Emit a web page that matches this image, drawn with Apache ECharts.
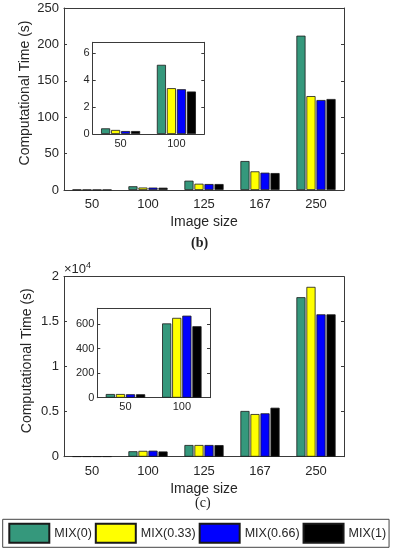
<!DOCTYPE html>
<html>
<head>
<meta charset="utf-8">
<script src="https://cdn.jsdelivr.net/npm/echarts@6/dist/echarts.min.js"></script>
<style>
html,body{margin:0;padding:0;background:#fff;}
#chart{width:395px;height:550px;}
</style>
</head>
<body>
<div id="chart"></div>
<script>
// ---- data ----
const categories = ['50', '100', '125', '167', '250'];
const insetCategories = ['50', '100'];
const seriesNames = ['MIX(0)', 'MIX(0.33)', 'MIX(0.66)', 'MIX(1)'];
const seriesColors = ['#35987c', '#ffff00', '#0000ff', '#000000'];

// (b) computational time in seconds
const mix0_b   = [0.42, 5.13, 12.8, 39.8, 212];
const mix033_b = [0.30, 3.40, 8.6, 25.6, 129];
const mix066_b = [0.22, 3.32, 8.2, 23.8, 123.6];
const mix1_b   = [0.22, 3.15, 8.2, 23.3, 125];

// (c) computational time in seconds
const mix0_c   = [30, 605, 1300, 5080, 17720];
const mix033_c = [30, 650, 1300, 4740, 18870];
const mix066_c = [28, 668, 1300, 4820, 15820];
const mix1_c   = [28, 582, 1290, 5440, 15820];

const yTicks_b = [0, 50, 100, 150, 200, 250];
const yTicksInset_b = [0, 2, 4, 6];
const yTicks_c = [0, 5000, 10000, 15000, 20000];
const yTicksInset_c = [0, 200, 400, 600];

// ---- chart ----
const FONT = 'Liberation Sans';
const AX = '#3a3a3a';
const TXT = '#262626';

const grids = [
  {left: 64, top: 8, width: 280, height: 182},
  {left: 92.7, top: 42.3, width: 111.6, height: 91.7, show: true, backgroundColor: '#fff', borderWidth: 0},
  {left: 64, top: 276.7, width: 280, height: 180},
  {left: 97.3, top: 308.3, width: 112.7, height: 89.4, show: true, backgroundColor: '#fff', borderWidth: 0}
];

const xAxes = [], yAxes = [];
function addAxes(gi, cats, yMin, yMax, yTicks, fontSize, fmt, withNames, yNameGap) {
  xAxes.push({
    type: 'category', gridIndex: gi, data: cats, position: 'bottom',
    axisLine: {onZero: false, lineStyle: {color: AX, width: 1}},
    axisTick: {inside: true, length: 3, alignWithLabel: true, lineStyle: {color: AX}},
    axisLabel: {color: TXT, fontFamily: FONT, fontSize: fontSize, margin: fontSize > 12 ? 8 : 4},
    splitLine: {show: false},
    name: withNames ? 'Image size' : '', nameLocation: 'middle', nameGap: 25,
    nameMoveOverlap: false,
    nameTextStyle: {color: TXT, fontFamily: FONT, fontSize: 14, verticalAlign: 'top'}
  });
  xAxes.push({
    type: 'category', gridIndex: gi, data: cats, position: 'top',
    axisLine: {onZero: false, lineStyle: {color: AX, width: 1}},
    axisTick: {inside: true, length: 3, alignWithLabel: true, lineStyle: {color: AX}},
    axisLabel: {show: false}, splitLine: {show: false}
  });
  yAxes.push({
    type: 'value', gridIndex: gi, min: yMin, max: yMax, position: 'left',
    axisLine: {show: true, onZero: false, lineStyle: {color: AX, width: 1}},
    axisTick: {show: true, inside: true, length: 3, lineStyle: {color: AX}, customValues: yTicks},
    axisLabel: {color: TXT, fontFamily: FONT, fontSize: fontSize, margin: fontSize > 12 ? 5 : 3,
                customValues: yTicks, formatter: fmt},
    splitLine: {show: false},
    name: withNames ? 'Computational Time (s)' : '', nameLocation: 'middle', nameGap: yNameGap, nameRotate: 90,
    nameMoveOverlap: false,
    nameTextStyle: {color: TXT, fontFamily: FONT, fontSize: 14, padding: [0, 0, 0, 12]}
  });
  yAxes.push({
    type: 'value', gridIndex: gi, min: yMin, max: yMax, position: 'right',
    axisLine: {show: true, onZero: false, lineStyle: {color: AX, width: 1}},
    axisTick: {show: true, inside: true, length: 3, lineStyle: {color: AX}, customValues: yTicks},
    axisLabel: {show: false}, splitLine: {show: false}
  });
}
addAxes(0, categories, 0, 250, yTicks_b, 13, v => String(v), true, 32);
addAxes(1, insetCategories, 0, 6.8, yTicksInset_b, 11, v => String(v), false, 0);
addAxes(2, categories, 0, 20000, yTicks_c, 13, v => String(v / 10000), true, 30);
addAxes(3, insetCategories, 0, 728, yTicksInset_c, 11, v => String(v), false, 0);

const dataB = [mix0_b, mix033_b, mix066_b, mix1_b];
const dataC = [mix0_c, mix033_c, mix066_c, mix1_c];
const series = [];
function addSeries(axisIdx, arrays, count) {
  arrays.forEach((arr, i) => {
    series.push({
      type: 'bar', name: seriesNames[i],
      xAxisIndex: axisIdx, yAxisIndex: axisIdx,
      data: count ? arr.slice(0, count) : arr,
      barCategoryGap: '30%', barGap: '10%',
      itemStyle: {color: seriesColors[i], borderColor: '#1a1a1a', borderWidth: 0.8},
      silent: true
    });
  });
}
addSeries(0, dataB, 0);
addSeries(2, dataB, 2);
addSeries(4, dataC, 0);
addSeries(6, dataC, 2);

const option = {
  animation: false,
  backgroundColor: '#fff',
  grid: grids,
  xAxis: xAxes,
  yAxis: yAxes,
  series: series,
  legend: {
    data: seriesNames,
    left: 2.7, top: 519.3,
    orient: 'horizontal',
    itemWidth: 40, itemHeight: 19, itemGap: 3,
    padding: [3.5, 3, 3.5, 5.6],
    borderColor: '#444', borderWidth: 1,
    textStyle: {color: TXT, fontFamily: FONT, fontSize: 12.5},
    icon: 'rect',
    selectedMode: false
  },
  graphic: [
    {type: 'text', left: 191, top: 236, style: {text: '(b)', font: 'bold 14px "Liberation Serif"', fill: '#222'}},
    {type: 'text', left: 195, top: 496, style: {text: '(c)', font: '14px "Liberation Serif"', fill: '#222'}},
    {type: 'text', left: 64, top: 261, style: {
      text: '{a|×10}{s|4}',
      rich: {
        a: {fontFamily: FONT, fontSize: 13, fill: TXT, color: TXT, verticalAlign: 'bottom'},
        s: {fontFamily: FONT, fontSize: 9, fill: TXT, color: TXT, verticalAlign: 'top', padding: [0, 0, 6, 0]}
      }
    }}
  ]
};
echarts.init(document.getElementById('chart')).setOption(option);
</script>
</body>
</html>
